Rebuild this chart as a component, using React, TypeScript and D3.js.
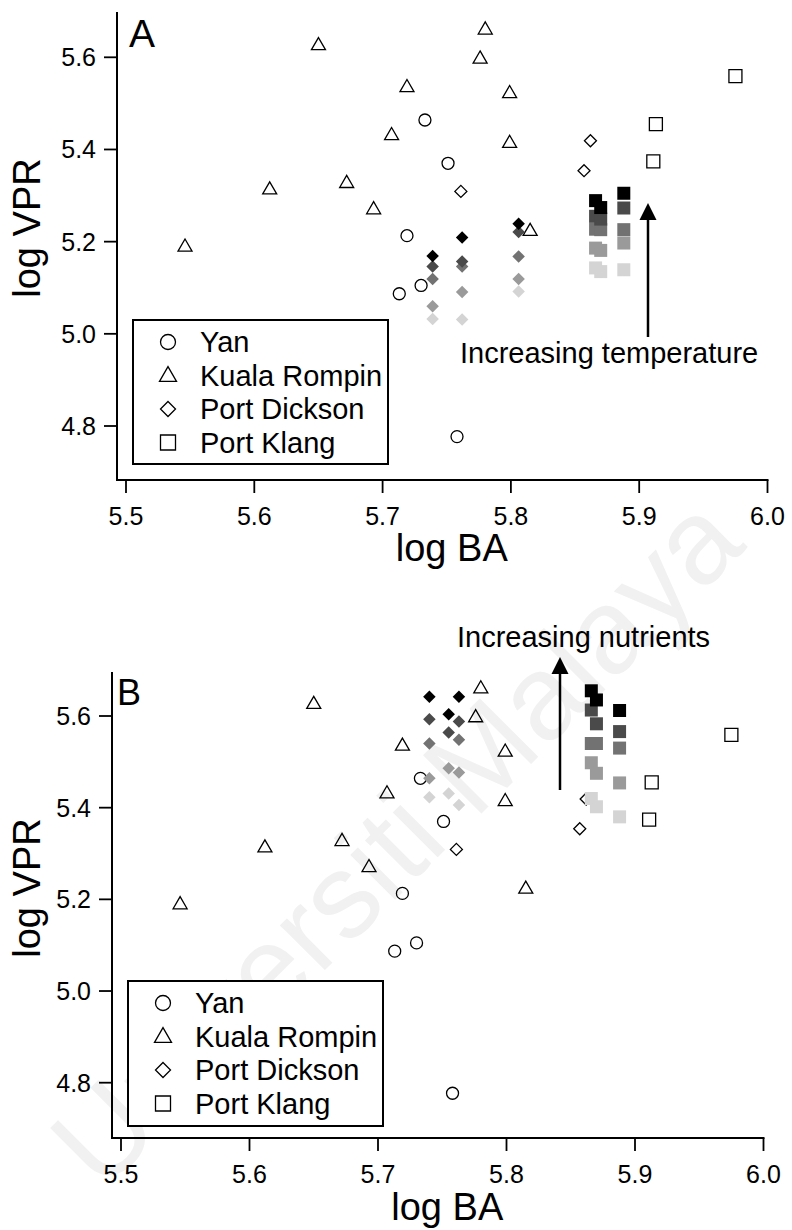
import React from "react";
import * as d3 from "d3";

// ---------- data (log BA, log VPR) ----------
const siteNames = ["Yan", "Kuala Rompin", "Port Dickson", "Port Klang"];
const siteSymbols = ["circle", "triangle", "diamond", "square"];

const yanBA = [5.733, 5.751, 5.719, 5.730, 5.713, 5.758];
const yanVPR = [5.464, 5.370, 5.213, 5.105, 5.087, 4.777];

const kualaBA = [5.546, 5.612, 5.650, 5.672, 5.693, 5.707, 5.719, 5.776, 5.780, 5.799, 5.799, 5.815];
const kualaVPR = [5.190, 5.314, 5.627, 5.328, 5.271, 5.432, 5.536, 5.598, 5.661, 5.523, 5.415, 5.224];

const dicksonBA = [5.761, 5.862, 5.857];
const dicksonVPR = [5.309, 5.419, 5.354];

const klangBA = [5.975, 5.913, 5.911];
const klangVPR = [5.559, 5.455, 5.374];

// Panel A: increasing temperature scenarios (level 0 = darkest)
const tempDicksonBA = [5.739, 5.762, 5.806];
const tempDicksonVPR = [
  [5.169, 5.146, 5.119, 5.060, 5.032],
  [5.209, 5.157, 5.146, 5.091, 5.031],
  [5.239, 5.221, 5.168, 5.119, 5.092],
];
const tempDicksonLevel = [
  [0, 1, 2, 3, 4],
  [0, 1, 2, 3, 4],
  [0, 1, 2, 3, 4],
];
const tempKlangBA = [5.866, 5.870, 5.888];
const tempKlangVPR = [
  [5.289, 5.255, 5.227, 5.186, 5.143],
  [5.274, 5.249, 5.226, 5.181, 5.135],
  [5.305, 5.273, 5.226, 5.197, 5.139],
];
const tempKlangLevel = [
  [0, 1, 2, 3, 4],
  [0, 1, 2, 3, 4],
  [0, 1, 2, 3, 4],
];

// Panel B: increasing nutrient scenarios
const nutDicksonBA = [5.740, 5.755, 5.763];
const nutDicksonVPR = [
  [5.642, 5.593, 5.540, 5.464, 5.423],
  [5.604, 5.564, 5.486, 5.431],
  [5.642, 5.588, 5.548, 5.477, 5.406],
];
const nutDicksonLevel = [
  [0, 1, 2, 3, 4],
  [0, 1, 3, 4],
  [0, 1, 2, 3, 4],
];
const nutKlangBA = [5.866, 5.870, 5.888];
const nutKlangVPR = [
  [5.655, 5.613, 5.540, 5.498, 5.420],
  [5.635, 5.583, 5.540, 5.475, 5.402],
  [5.612, 5.566, 5.530, 5.454, 5.380],
];
const nutKlangLevel = [
  [0, 1, 2, 3, 4],
  [0, 1, 2, 3, 4],
  [0, 1, 2, 3, 4],
];

const levelColors = ["#000000", "#4a4a4a", "#727272", "#9a9a9a", "#d4d4d4"];

const xTicks = [5.5, 5.6, 5.7, 5.8, 5.9, 6.0];
const yTicks = [4.8, 5.0, 5.2, 5.4, 5.6];

const FONT = "'Liberation Sans', Arial, sans-serif";

function symPath(kind: string, size: number) {
  if (kind === "circle") return d3.symbol(d3.symbolCircle, Math.PI * (size / 2) ** 2)()!;
  if (kind === "square") return d3.symbol(d3.symbolSquare, size * size)()!;
  if (kind === "triangle") {
    const h = (size * Math.sqrt(3)) / 2;
    const p = d3.path();
    p.moveTo(0, -h * 0.6);
    p.lineTo(size / 2, h * 0.4);
    p.lineTo(-size / 2, h * 0.4);
    p.closePath();
    return p.toString();
  }
  const r = size / 2;
  const p = d3.path();
  p.moveTo(0, -r);
  p.lineTo(r, 0);
  p.lineTo(0, r);
  p.lineTo(-r, 0);
  p.closePath();
  return p.toString();
}

const hollowSize: Record<string, number> = { circle: 12, triangle: 14, diamond: 12, square: 13 };

type PanelCfg = {
  label: string;
  labelSize: number;
  labelX: number;
  labelY: number;
  spineX: number;
  spineTop: number;
  axisY: number;
  xr: [number, number];
  yr: [number, number];
  legend: { x: number; y: number; w: number; h: number };
  filled: { kind: string; ba: number[]; vpr: number[][]; lvl: number[][] }[];
  arrow: { x: number; y0: number; y1: number };
  note: { text: string; x: number; y: number };
  yTitleY: number;
  xTitleY: number;
};

function Panel({ c }: { c: PanelCfg }) {
  const x = d3.scaleLinear().domain([5.5, 6.0]).range(c.xr);
  const y = d3.scaleLinear().domain([4.8, 5.6]).range(c.yr);
  const xEnd = x(6.0) + 1;
  const obs = [
    { kind: "circle", ba: yanBA, vpr: yanVPR },
    { kind: "triangle", ba: kualaBA, vpr: kualaVPR },
    { kind: "diamond", ba: dicksonBA, vpr: dicksonVPR },
    { kind: "square", ba: klangBA, vpr: klangVPR },
  ];
  const fmt = d3.format(".1f");
  return (
    <g>
      {/* axes */}
      <line x1={c.spineX} x2={c.spineX} y1={c.spineTop} y2={c.axisY} stroke="#000" strokeWidth={2} />
      <line x1={c.spineX - 1} x2={xEnd} y1={c.axisY} y2={c.axisY} stroke="#000" strokeWidth={2} />
      {yTicks.map((t) => (
        <g key={"y" + t}>
          <line x1={c.spineX - 13} x2={c.spineX} y1={y(t)} y2={y(t)} stroke="#000" strokeWidth={1.8} />
          <text x={c.spineX - 21} y={y(t) + 9} textAnchor="end" fontSize={25} fontFamily={FONT}>
            {fmt(t)}
          </text>
        </g>
      ))}
      {xTicks.map((t) => (
        <g key={"x" + t}>
          <line x1={x(t)} x2={x(t)} y1={c.axisY} y2={c.axisY + 13} stroke="#000" strokeWidth={1.8} />
          <text x={x(t)} y={c.axisY + 45} textAnchor="middle" fontSize={25} fontFamily={FONT}>
            {fmt(t)}
          </text>
        </g>
      ))}
      <text x={(c.xr[0] + c.xr[1]) / 2 + 5} y={c.xTitleY} textAnchor="middle" fontSize={38} fontFamily={FONT}>
        log BA
      </text>
      <text
        transform={`translate(40,${c.yTitleY}) rotate(-90)`}
        textAnchor="middle"
        fontSize={38}
        fontFamily={FONT}
      >
        log VPR
      </text>
      <text x={c.labelX} y={c.labelY} fontSize={c.labelSize} fontFamily={FONT}>
        {c.label}
      </text>

      {/* observed (hollow) */}
      {obs.map((s) =>
        s.ba.map((b, i) => (
          <path
            key={s.kind + i}
            d={symPath(s.kind, hollowSize[s.kind])}
            transform={`translate(${x(b)},${y(s.vpr[i])})`}
            fill="none"
            stroke="#000"
            strokeWidth={1.3}
          />
        ))
      )}

      {/* scenario predictions (filled, graded) */}
      {c.filled.map((f, fi) =>
        f.ba.map((b, ci) =>
          f.vpr[ci]
            .map((v, k) => ({ v, k, l: f.lvl[ci][k] }))
            .slice()
            .reverse()
            .map(({ v, k, l }) => (
              <path
                key={`${fi}-${ci}-${k}`}
                d={symPath(f.kind, f.kind === "square" ? 13 : 12.5)}
                transform={`translate(${x(b)},${y(v)})`}
                fill={levelColors[l]}
              />
            ))
        )
      )}

      {/* arrow */}
      <line x1={c.arrow.x} x2={c.arrow.x} y1={c.arrow.y1} y2={c.arrow.y0 + 14} stroke="#000" strokeWidth={2.5} />
      <path
        d={`M${c.arrow.x},${c.arrow.y0} L${c.arrow.x + 8.5},${c.arrow.y0 + 17} L${c.arrow.x - 8.5},${c.arrow.y0 + 17} Z`}
        fill="#000"
      />
      <text x={c.note.x} y={c.note.y} fontSize={29} fontFamily={FONT}>
        {c.note.text}
      </text>

      {/* legend */}
      <rect
        x={c.legend.x}
        y={c.legend.y}
        width={c.legend.w}
        height={c.legend.h}
        fill="#fff"
        stroke="#000"
        strokeWidth={2}
      />
      {siteNames.map((n, i) => {
        const cy = c.legend.y + 22 + i * 33.5;
        return (
          <g key={n}>
            <path
              d={symPath(siteSymbols[i], siteSymbols[i] === "triangle" ? 17 : 15)}
              transform={`translate(${c.legend.x + 35},${cy})`}
              fill="none"
              stroke="#000"
              strokeWidth={1.3}
            />
            <text x={c.legend.x + 67} y={cy + 10} fontSize={29} fontFamily={FONT}>
              {n}
            </text>
          </g>
        );
      })}
    </g>
  );
}

const panelA: PanelCfg = {
  label: "A",
  labelSize: 39,
  labelX: 129,
  labelY: 47,
  spineX: 117,
  spineTop: 12,
  axisY: 480,
  xr: [126, 767.5],
  yr: [426, 57.3],
  legend: { x: 133, y: 320, w: 255, h: 144 },
  filled: [
    { kind: "diamond", ba: tempDicksonBA, vpr: tempDicksonVPR, lvl: tempDicksonLevel },
    { kind: "square", ba: tempKlangBA, vpr: tempKlangVPR, lvl: tempKlangLevel },
  ],
  arrow: { x: 648, y0: 203, y1: 337 },
  note: { text: "Increasing temperature", x: 460, y: 363 },
  yTitleY: 228,
  xTitleY: 561,
};

const panelB: PanelCfg = {
  label: "B",
  labelSize: 36,
  labelX: 117,
  labelY: 705,
  spineX: 112,
  spineTop: 672,
  axisY: 1138,
  xr: [121, 763.5],
  yr: [1082.7, 716],
  legend: { x: 128, y: 981, w: 255, h: 145 },
  filled: [
    { kind: "diamond", ba: nutDicksonBA, vpr: nutDicksonVPR, lvl: nutDicksonLevel },
    { kind: "square", ba: nutKlangBA, vpr: nutKlangVPR, lvl: nutKlangLevel },
  ],
  arrow: { x: 560, y0: 657, y1: 790 },
  note: { text: "Increasing nutrients", x: 457, y: 647 },
  yTitleY: 888,
  xTitleY: 1220,
};

export default function App() {
  return (
    <svg
      width={792}
      height={1230}
      viewBox="0 0 792 1230"
      style={{ position: "absolute", left: 0, top: 0, background: "#fff" }}
    >
      <rect width={792} height={1230} fill="#fff" />
      <text
        transform="translate(425,870) rotate(-45)"
        textAnchor="middle"
        fontSize={120}
        fontFamily={FONT}
        fill="#f1f1f1"
      >
        Universiti Malaya
      </text>
      <Panel c={panelA} />
      <Panel c={panelB} />
    </svg>
  );
}
